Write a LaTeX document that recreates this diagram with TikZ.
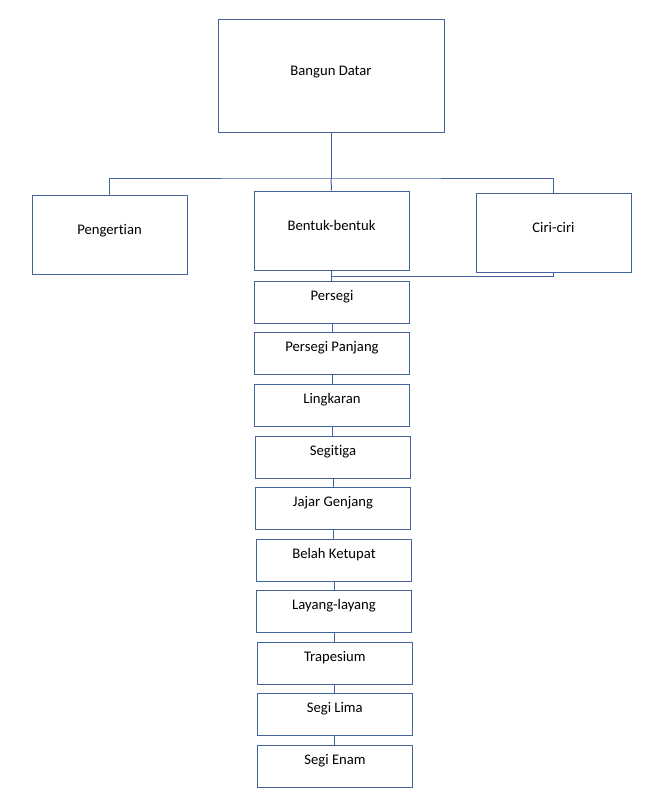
\documentclass[tikz,border=0pt]{standalone}
\usepackage{fontspec}
\setmainfont{Carlito}[Ligatures={NoCommon}]
\definecolor{lineblue}{RGB}{68,100,160}
\begin{document}
\begin{tikzpicture}[x=0.75pt,y=-0.75pt,
  every node/.style={font=\fontsize{11}{13}\selectfont},
  bigbox/.style={draw=lineblue,line width=0.75pt,inner sep=0pt,text height=8pt,text depth=8pt},
  listbox/.style={draw=lineblue,line width=0.75pt,inner sep=0pt,minimum width=116.25pt,minimum height=31.5pt,text height=8pt,text depth=10pt},
  conn/.style={draw=lineblue,line width=0.75pt}]
\useasboundingbox (0,0) rectangle (657,793);
% top level
\node[bigbox,minimum width=169.5pt,minimum height=84.75pt] (bd) at (331,75.5) {Bangun Datar};
\node[bigbox,minimum width=116.25pt,minimum height=59.25pt] (peng) at (109.5,234.5) {Pengertian};
\node[bigbox,minimum width=116.25pt,minimum height=59.25pt] (bent) at (331.5,230.5) {Bentuk-bentuk};
\node[bigbox,minimum width=116.25pt,minimum height=59.25pt] (ciri) at (553.5,232.5) {Ciri-ciri};
\coordinate (hub) at (331,178);
\draw[conn] (bd.south) -- (hub);
\draw[conn] (peng.north) |- (hub) -| (ciri.north);
\draw[conn] (hub) -- (bent.north);
% list
\node[listbox] (l1) at (332,302) {Persegi};
\node[listbox] (l2) at (332,353.2) {Persegi Panjang};
\node[listbox] (l3) at (332,405.3) {Lingkaran};
\node[listbox] (l4) at (333,457.3) {Segitiga};
\node[listbox] (l5) at (333,508.3) {Jajar Genjang};
\node[listbox] (l6) at (334,560.2) {Belah Ketupat};
\node[listbox] (l7) at (334,611.3) {Layang-layang};
\node[listbox] (l8) at (334.8,663.3) {Trapesium};
\node[listbox] (l9) at (334.8,714.3) {Segi Lima};
\node[listbox] (l10) at (335,766.2) {Segi Enam};
\coordinate (j) at (331.5,276);
\draw[conn] (bent.south) -- (j) -| (ciri.south);
\draw[conn] (j) -- (j |- l1.north);
\foreach \a/\b in {l1/l2,l2/l3,l3/l4,l4/l5,l5/l6,l6/l7,l7/l8,l8/l9,l9/l10}
  \draw[conn] (\a.south) -- (\a.south |- \b.north);
\end{tikzpicture}
\end{document}
